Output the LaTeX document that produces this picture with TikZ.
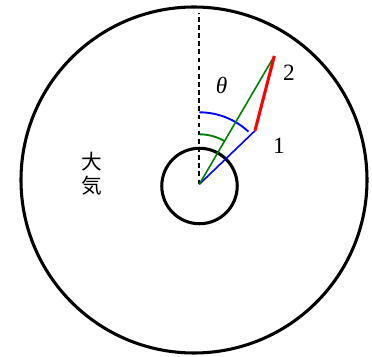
\documentclass[tikz,border=0pt]{standalone}
\usepackage{fontspec}
\setmainfont{Liberation Serif}
\newfontfamily\cjk{Noto Sans CJK JP}
\usepackage{tikz}
\usetikzlibrary{calc,positioning}
\definecolor{atmGreen}{RGB}{0,128,0}
\definecolor{atmBlue}{RGB}{0,0,255}
\definecolor{atmRed}{RGB}{255,0,0}
\tikzset{
    ring/.style={line width=2.3pt, black},
    lbl/.style={inner sep=0pt, font=\fontsize{17.5}{19}\selectfont},
    kanji/.style={inner sep=0pt, font=\cjk\fontsize{15.5}{17}\selectfont}
}

\begin{document}
\begin{tikzpicture}[x=0.75pt,y=0.75pt]
    \useasboundingbox (0,0) rectangle (372,357);
    % points
    \coordinate (O) at (199.3,172.7);
    \coordinate (top) at (199.3,344);
    \coordinate (P1) at (255,226.3);
    \coordinate (P2) at (274.3,301);

    % outer and inner rings
    \draw[ring] (194,177) circle (129.75pt);
    \draw[ring] (199.5,171) circle (28.3pt);

    % vertical reference
    \draw[black, line width=1.5pt, dash pattern=on 3.5pt off 2.6pt] (O) -- (top);

    % angle arcs
    \draw[atmBlue, line width=1.4pt] ($(O)+(0,54pt)$) arc (90:47:54pt);
    \draw[atmGreen, line width=1.4pt] ($(O)+(0,37.5pt)$) arc (90:60:37.5pt);

    % rays
    \draw[atmBlue, line width=1.2pt] (O) -- (P1);
    \draw[atmGreen, line width=1.2pt] (O) -- (P2);
    \draw[atmRed, line width=2.3pt] (P1) -- (P2);

    % labels
    \node[lbl] (theta) at (221.7,272) {\textit{θ}};
    \node[lbl] (n2) at (289,284.5) {2};
    \node[lbl] (n1) at (279,211) {1};
    \node[kanji] (dai) at (92,195) {大};
    \node[kanji, below=3pt of dai] (ki) {気};
\end{tikzpicture}
\end{document}
